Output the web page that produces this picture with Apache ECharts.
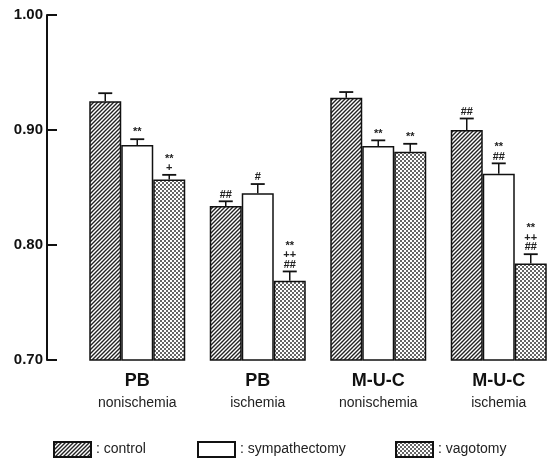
<!DOCTYPE html>
<html>
<head>
<meta charset="utf-8">
<script src="https://cdn.jsdelivr.net/npm/echarts@6/dist/echarts.min.js"></script>
<style>html,body{margin:0;padding:0;background:#fff}#c{width:559px;height:461px}</style>
</head>
<body>
<div id="c"></div>
<script>
// ---- data ----
const groups = ['PB', 'PB', 'M-U-C', 'M-U-C'];
const subgroups = ['nonischemia', 'ischemia', 'nonischemia', 'ischemia'];
const seriesNames = ['control', 'sympathectomy', 'vagotomy'];
const controlVals = [0.925, 0.834, 0.928, 0.900];
const controlErr  = [0.932, 0.838, 0.933, 0.910];
const sympVals    = [0.887, 0.845, 0.886, 0.862];
const sympErr     = [0.892, 0.853, 0.891, 0.871];
const vagVals     = [0.857, 0.769, 0.881, 0.784];
const vagErr      = [0.861, 0.777, 0.888, 0.792];
const controlMarks = ['', '##', '', '##'];
const sympMarks    = ['**', '#', '**', '**\n##'];
const vagMarks     = ['**\n+', '**\n++\n##', '**', '**\n++\n##'];
const yTicks = [0.70, 0.80, 0.90, 1.00];

// ---- patterns ----
function hatch() {
  const c = document.createElement('canvas'); c.width = 4; c.height = 4;
  const g = c.getContext('2d');
  g.fillStyle = '#fff'; g.fillRect(0, 0, 4, 4);
  g.strokeStyle = '#222'; g.lineWidth = 1.4;
  g.beginPath();
  g.moveTo(-1, 5); g.lineTo(5, -1);
  g.moveTo(-1, 1); g.lineTo(1, -1);
  g.moveTo(3, 5); g.lineTo(5, 3);
  g.stroke();
  return c;
}
function dots() {
  const c = document.createElement('canvas'); c.width = 4; c.height = 4;
  const g = c.getContext('2d');
  g.fillStyle = '#fff'; g.fillRect(0, 0, 4, 4);
  g.fillStyle = '#666';
  g.fillRect(0, 0, 2, 2); g.fillRect(2, 2, 2, 2);
  return c;
}
const fills = [
  { image: hatch(), repeat: 'repeat' },
  '#ffffff',
  { image: dots(), repeat: 'repeat' }
];

const BAR_W = 32;
const offsets = [-BAR_W, 0, BAR_W];

function barSeries(name, vals, k) {
  return {
    type: 'bar', name: name, data: vals,
    barWidth: BAR_W, barGap: '0%',
    itemStyle: { color: fills[k], borderColor: '#111', borderWidth: 1.5 },
    z: 2
  };
}
function errSeries(vals, errs, marks, k) {
  return {
    type: 'custom', silent: true, z: 5,
    data: vals.map((v, i) => [i, errs[i], v]),
    renderItem: function (params, api) {
      const i = api.value(0);
      const top = api.coord([i, api.value(1)]);
      const base = api.coord([i, api.value(2)]);
      const x = top[0] + offsets[k];
      const children = [
        { type: 'line', shape: { x1: x, y1: base[1], x2: x, y2: top[1] }, style: { stroke: '#111', lineWidth: 1.5 } },
        { type: 'line', shape: { x1: x - 7, y1: top[1], x2: x + 7, y2: top[1] }, style: { stroke: '#111', lineWidth: 1.8 } }
      ];
      if (marks[i]) {
        children.push({
          type: 'text',
          style: {
            text: marks[i], x: x, y: top[1] - 2,
            align: 'center', verticalAlign: 'bottom',
            font: 'bold 11px "Liberation Sans", sans-serif',
            lineHeight: 9.5, fill: '#222'
          }
        });
      }
      return { type: 'group', children: children };
    }
  };
}

const chart = echarts.init(document.getElementById('c'));
const legendBase = {
  orient: 'horizontal', top: 441, itemWidth: 37, itemHeight: 15, padding: 0,
  icon: 'rect',
  formatter: ': {name}',
  textStyle: { fontFamily: '"Liberation Sans", sans-serif', fontSize: 14, color: '#222' }
};
chart.setOption({
  animation: false,
  backgroundColor: '#fff',
  grid: { left: 77, top: 15, width: 484, height: 345, containLabel: false },
  legend: [
    Object.assign({}, legendBase, { left: 53, data: [seriesNames[0]] }),
    Object.assign({}, legendBase, { left: 197, data: [seriesNames[1]] }),
    Object.assign({}, legendBase, { left: 395, data: [seriesNames[2]] })
  ],
  xAxis: {
    type: 'category',
    data: groups.map((g, i) => g + '|' + subgroups[i]),
    axisLine: { show: false }, axisTick: { show: false },
    axisLabel: {
      margin: 10, interval: 0,
      formatter: function (v) { const p = v.split('|'); return '{a|' + p[0] + '}\n{b|' + p[1] + '}'; },
      rich: {
        a: { fontFamily: '"Liberation Sans", sans-serif', fontWeight: 'bold', fontSize: 18, color: '#111', lineHeight: 22 },
        b: { fontFamily: '"Liberation Sans", sans-serif', fontSize: 14, color: '#222', lineHeight: 22 }
      }
    }
  },
  yAxis: {
    type: 'value', min: yTicks[0], max: yTicks[yTicks.length - 1], interval: 0.1,
    offset: 30,
    splitLine: { show: false },
    axisLine: { show: true, lineStyle: { color: '#111', width: 2 } },
    axisTick: { show: true, inside: true, length: 10, lineStyle: { color: '#111', width: 2 } },
    axisLabel: {
      margin: 4, formatter: v => v.toFixed(2),
      fontFamily: '"Liberation Sans Narrow", "Arial Narrow", "Liberation Sans", sans-serif',
      fontWeight: 'bold', fontSize: 15, color: '#111'
    }
  },
  series: [
    barSeries(seriesNames[0], controlVals, 0),
    barSeries(seriesNames[1], sympVals, 1),
    barSeries(seriesNames[2], vagVals, 2),
    errSeries(controlVals, controlErr, controlMarks, 0),
    errSeries(sympVals, sympErr, sympMarks, 1),
    errSeries(vagVals, vagErr, vagMarks, 2)
  ]
});
</script>
</body>
</html>
